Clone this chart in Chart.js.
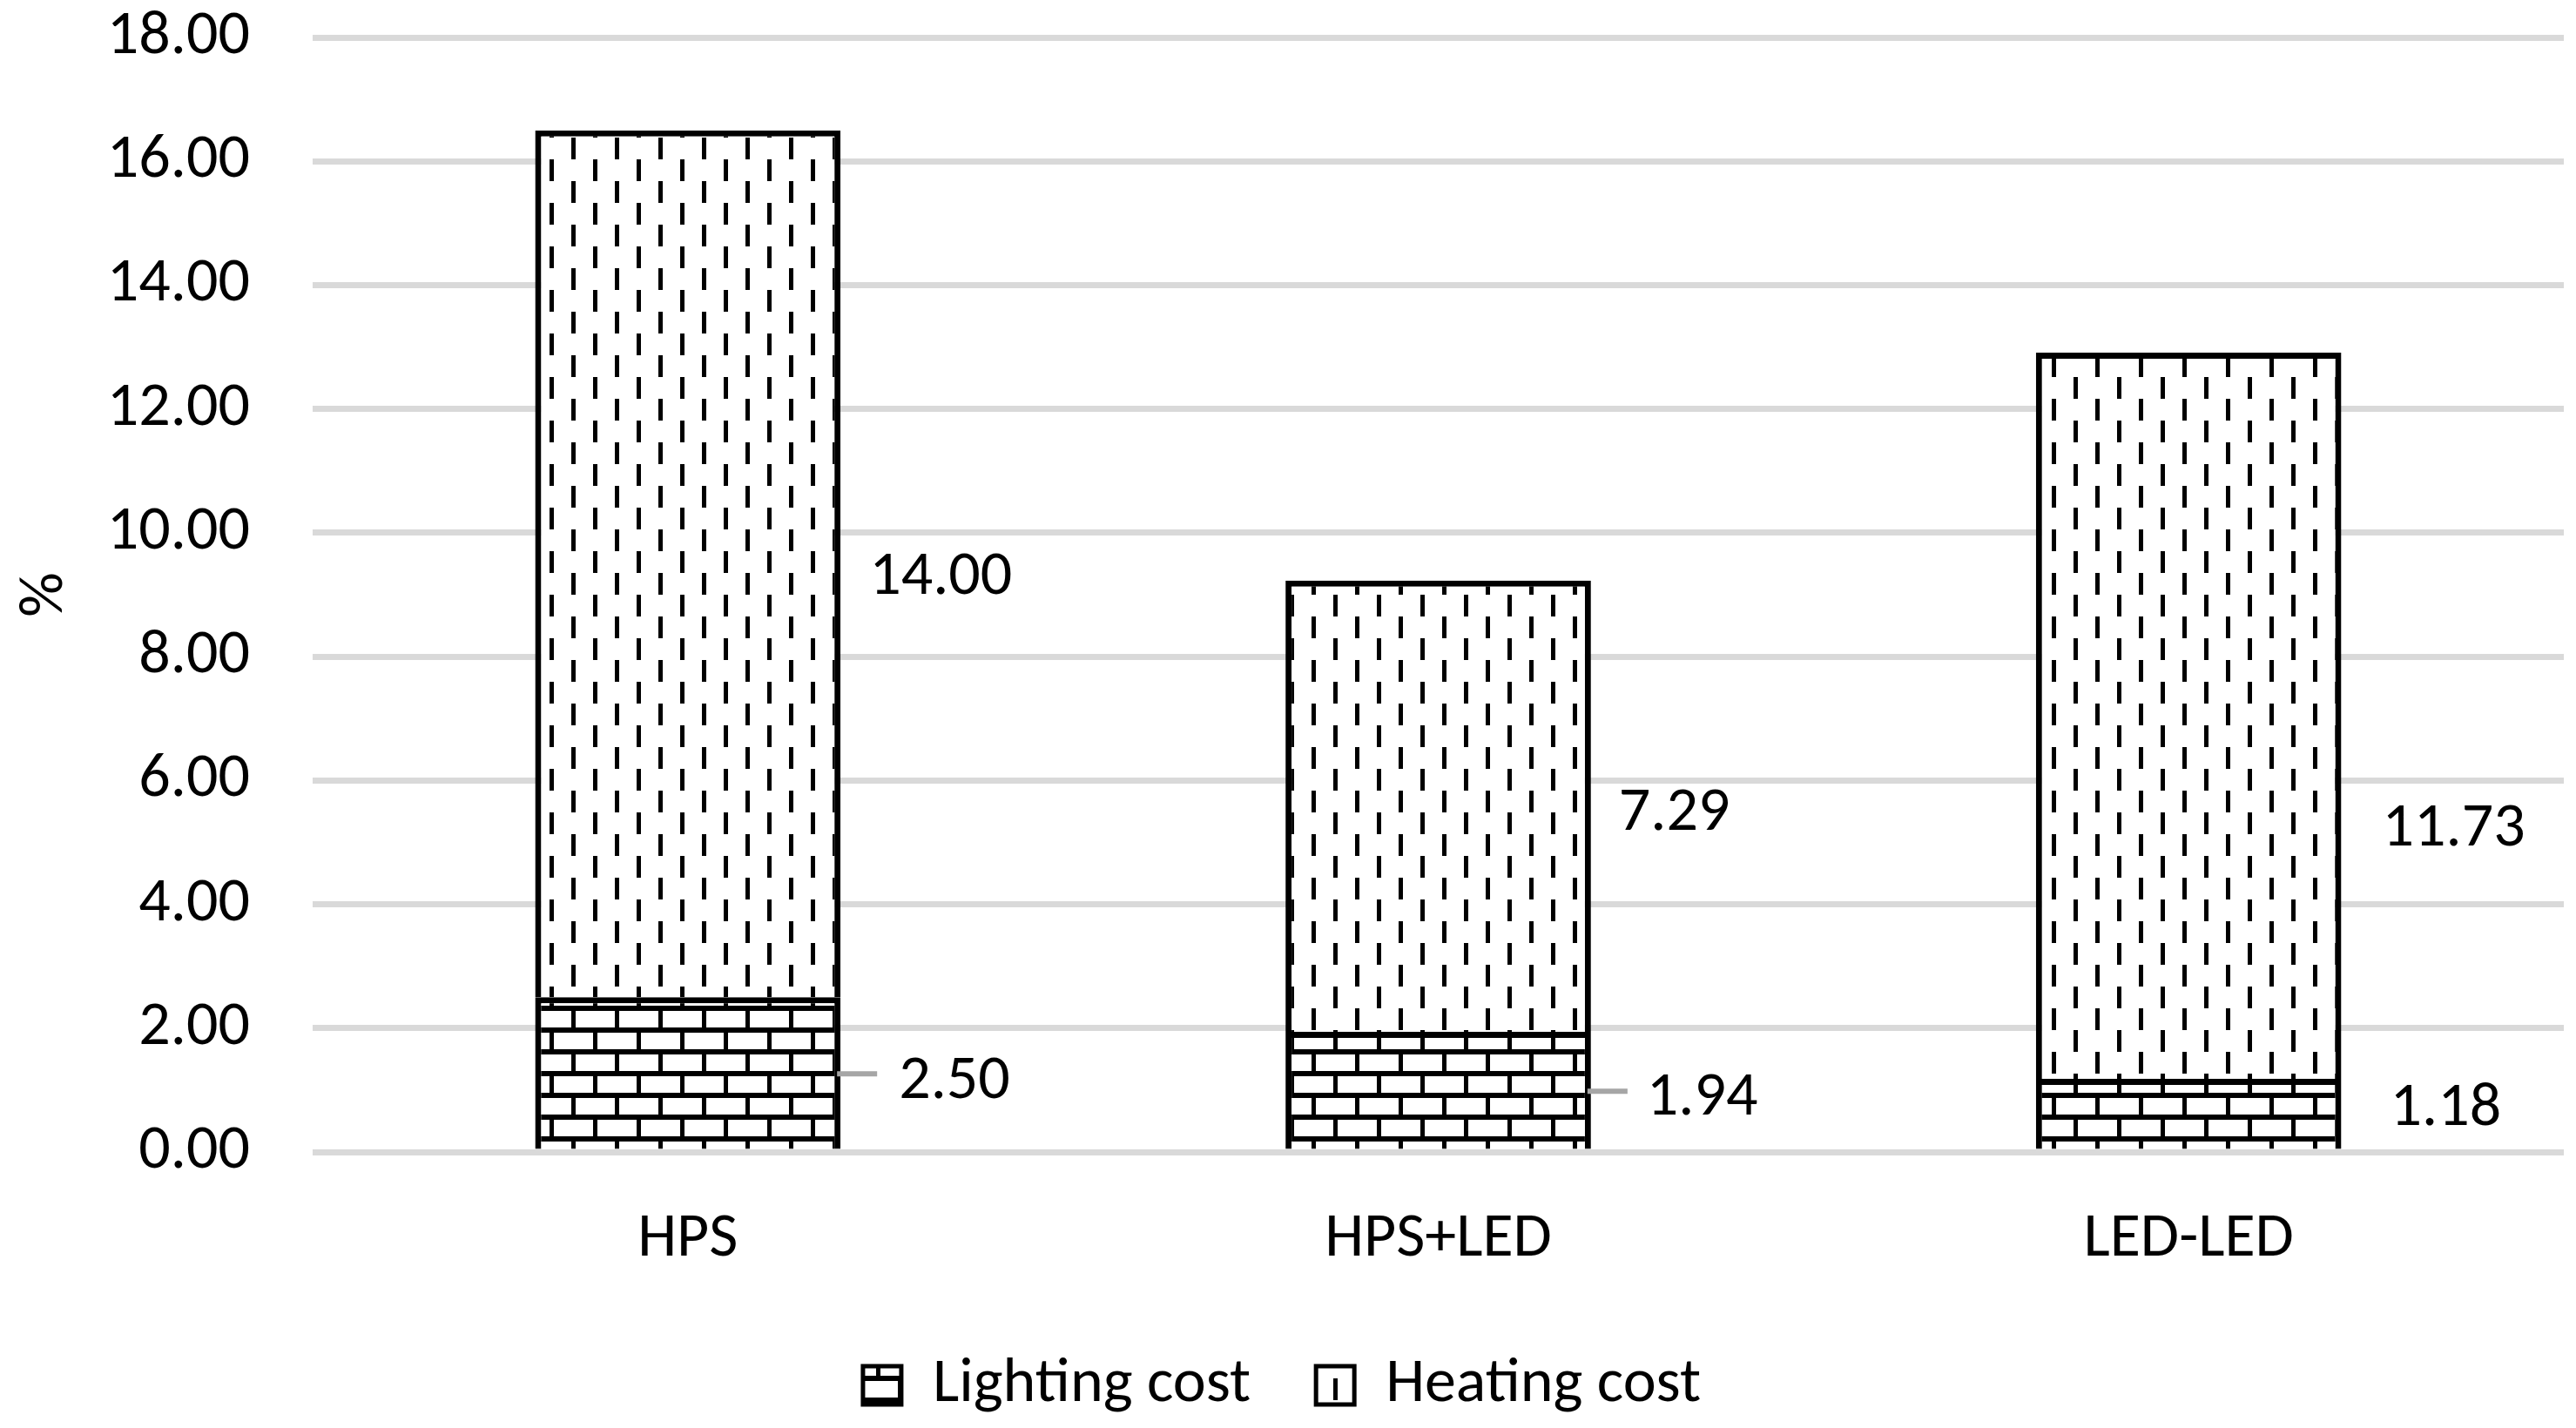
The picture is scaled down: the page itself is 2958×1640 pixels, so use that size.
<!DOCTYPE html>
<html>
<head>
<meta charset="utf-8">
<script src="https://cdn.jsdelivr.net/npm/chart.js"></script>
<style>
  html, body { margin: 0; padding: 0; background: #fff; }
  #wrap { width: 2958px; height: 1640px; }
</style>
</head>
<body>
<div id="wrap"><canvas id="costChart" width="2958" height="1640"></canvas></div>
<script>
// data
const categories = ["HPS", "HPS+LED", "LED-LED"];
const lightingCost = [2.50, 1.94, 1.18];
const heatingCost = [14.00, 7.29, 11.73];
const yTickValues = [0, 2, 4, 6, 8, 10, 12, 14, 16, 18];

const FONT = "Carlito, Lato, sans-serif";
const FONT_SIZE = 72;
const LEGEND_PAD = 75;
const LEGEND_H = 160;

// label placement: [dx from bar right edge, dy from segment middle, leader line]
const labelPlacement = [
    [[67, 11, true], [64, 10, true], [56, -5, false]],
    [[33, 17, false], [32, 9, false], [47, 131, false]]
];

// hatch fills like the Excel pattern fills
function brickPattern() {
    const c = document.createElement("canvas");
    c.width = 50; c.height = 50;
    const g = c.getContext("2d");
    g.fillStyle = "#fff";
    g.fillRect(0, 0, 50, 50);
    g.fillStyle = "#000";
    g.fillRect(0, 0, 50, 6);
    g.fillRect(0, 25, 50, 6);
    g.fillRect(0, 0, 5, 25);
    g.fillRect(25, 25, 5, 25);
    const p = g.createPattern(c, "repeat");
    p.setTransform(new DOMMatrix().translate(6, 5));
    return p;
}

function dashPattern() {
    const c = document.createElement("canvas");
    c.width = 50; c.height = 50;
    const g = c.getContext("2d");
    g.fillStyle = "#fff";
    g.fillRect(0, 0, 50, 50);
    g.fillStyle = "#000";
    g.fillRect(0, 0, 5, 25);
    g.fillRect(25, 25, 5, 25);
    const p = g.createPattern(c, "repeat");
    p.setTransform(new DOMMatrix().translate(31, 33));
    return p;
}

const valueLabels = {
    id: "valueLabels",
    afterDatasetsDraw(chart) {
        const ctx = chart.ctx;
        ctx.save();
        ctx.font = FONT_SIZE + "px " + FONT;
        ctx.fillStyle = "#000";
        ctx.textAlign = "left";
        ctx.textBaseline = "middle";
        chart.data.datasets.forEach((ds, di) => {
            const meta = chart.getDatasetMeta(di);
            meta.data.forEach((bar, i) => {
                const [dx, dy, leader] = labelPlacement[di][i];
                const right = bar.x + bar.width / 2;
                const mid = (bar.y + bar.base) / 2;
                if (leader) {
                    ctx.strokeStyle = "#a6a6a6";
                    ctx.lineWidth = 6;
                    ctx.beginPath();
                    ctx.moveTo(right - 4, mid + 1);
                    ctx.lineTo(right + 42, mid + 1);
                    ctx.stroke();
                }
                ctx.fillText(ds.data[i].toFixed(2), right + dx, mid + dy);
            });
        });
        ctx.restore();
    }
};

// keep the legend's wide item spacing without making its box tall
const legendHeight = {
    id: "legendHeight",
    beforeLayout(chart) {
        const lg = chart.legend;
        if (lg && !lg._fixedHeight) {
            const orig = lg.update;
            lg.update = function (w, h, m) {
                orig.call(this, w, h, m);
                this.height = LEGEND_H;
            };
            lg._fixedHeight = true;
        }
    }
};

const data = {
    labels: categories,
    datasets: [
        {
            label: "Lighting cost",
            data: lightingCost,
            backgroundColor: brickPattern(),
            borderColor: "#000",
            borderWidth: 7,
        },
        {
            label: "Heating cost",
            data: heatingCost,
            backgroundColor: dashPattern(),
            borderColor: "#000",
            borderWidth: 7,
        },
    ],
};

const config = {
    type: "bar",
    data: data,
    options: {
        responsive: false,
        animation: false,
        devicePixelRatio: 1,
        layout: { padding: { top: 43, right: 14, left: 0, bottom: 0 } },
        datasets: {
            bar: { barPercentage: 0.407, categoryPercentage: 1 }
        },
        plugins: {
            legend: {
                display: true,
                position: "bottom",
                labels: {
                    font: { family: FONT, size: FONT_SIZE },
                    color: "#000",
                    boxWidth: 44,
                    boxHeight: 44,
                    padding: LEGEND_PAD,
                    generateLabels(chart) {
                        const items = Chart.defaults.plugins.legend.labels.generateLabels(chart);
                        items.forEach(it => { it.lineWidth = 5; });
                        return items;
                    }
                },
            },
            tooltip: { enabled: false },
        },
        scales: {
            x: {
                stacked: true,
                grid: { display: false, drawTicks: false },
                border: { display: false },
                ticks: { font: { family: FONT, size: FONT_SIZE }, color: "#000", padding: 58 },
                afterFit(scale) { scale.height = 157; }
            },
            y: {
                stacked: true,
                min: 0,
                max: 18,
                afterBuildTicks(scale) {
                    scale.ticks = yTickValues.map(v => ({ value: v }));
                },
                grid: { color: "#d9d9d9", lineWidth: 7, drawTicks: false },
                border: { display: false },
                ticks: {
                    font: { family: FONT, size: FONT_SIZE },
                    color: "#000",
                    padding: 72,
                    callback: v => Number(v).toFixed(2)
                },
                title: {
                    display: true,
                    text: "%",
                    font: { family: FONT, size: FONT_SIZE },
                    color: "#000",
                    padding: { top: 10, bottom: 4 }
                },
                afterFit(scale) {
                    scale.width = 359;
                    scale.paddingTop = 0;
                    scale.paddingBottom = 0;
                }
            },
        },
    },
    plugins: [legendHeight, valueLabels]
};

const ctx = document.getElementById("costChart").getContext("2d");
new Chart(ctx, config);
</script>
</body>
</html>
